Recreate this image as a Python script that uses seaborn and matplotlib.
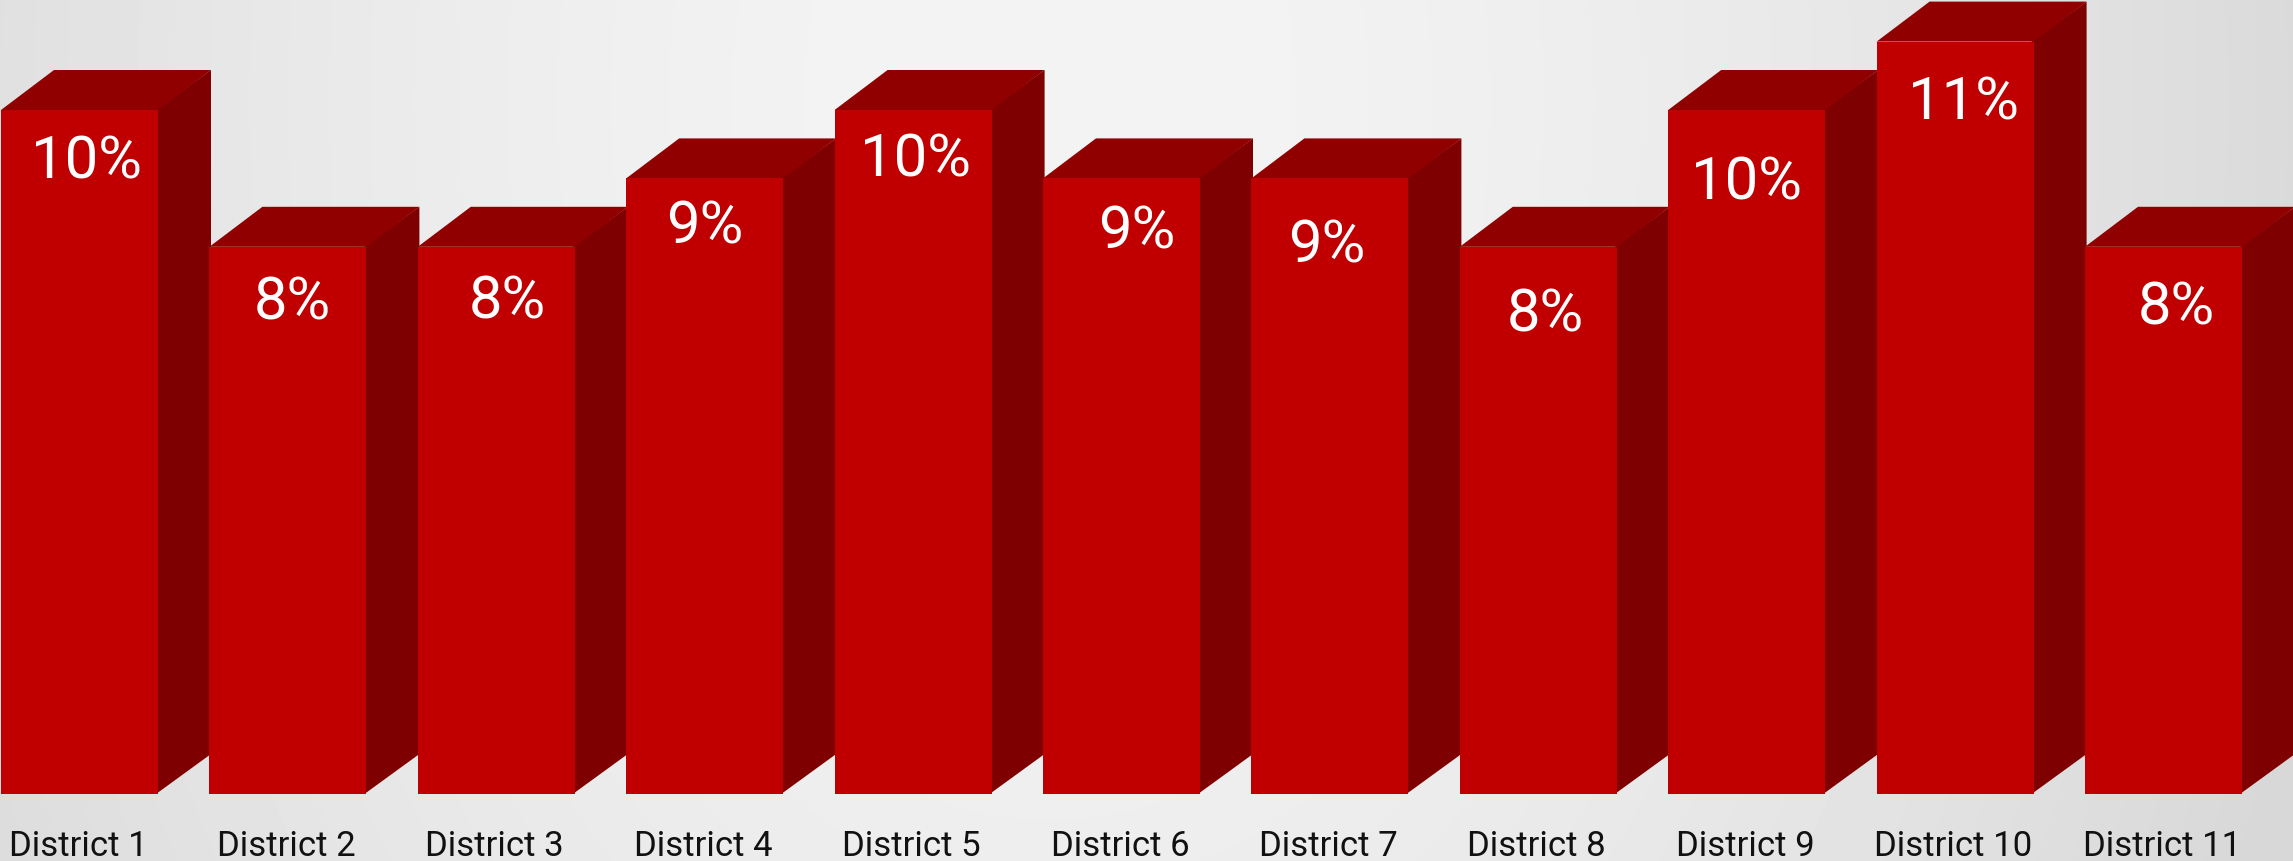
import numpy as np
import pandas as pd
import seaborn as sns
import matplotlib.pyplot as plt
from matplotlib.transforms import ScaledTranslation

districts = ['District 1', 'District 2', 'District 3', 'District 4', 'District 5', 'District 6',
             'District 7', 'District 8', 'District 9', 'District 10', 'District 11']
shares = [10, 8, 8, 9, 10, 9, 9, 8, 10, 11, 8]

# where each label sits relative to the top centre of its bar, in pixels
label_dx = [7, 4, 11, 0, 2, 15, -3, 7, 0, 8, 13]
label_dy = [45, 49, 48, 42, 43, 47, 61, 61, 66, 54, 54]

W, H = 2293, 862
BASE_Y = 795
PX_X = 208.4
PX_Y = 68.4
DEPTH_X = 53 / PX_X
DEPTH_Y = 40 / PX_Y
SEAM = 2 / PX_X

FRONT = '#c00000'
TOP = '#910000'
SIDE = '#7f0000'

sns.set_theme(style='white')
plt.rcParams['font.family'] = ['Roboto', 'DejaVu Sans']

fig = plt.figure(figsize=(W / 100, H / 100), dpi=100)

# soft radial backdrop
bg = fig.add_axes([0, 0, 1, 1], zorder=0)
yy, xx = np.mgrid[0:H, 0:W]
r = np.hypot((xx - 1050) / 1300, (yy - 100) / 1900)
bg.imshow(244 - 28 * np.clip(r, 0, 1) ** 1.6, cmap='gray', vmin=0, vmax=255, aspect='auto')
bg.axis('off')

ax = fig.add_axes([0, 1 - BASE_Y / H, 1, BASE_Y / H], zorder=1)
ax.patch.set_alpha(0)

df = pd.DataFrame({'district': districts, 'share': shares})
sns.barplot(data=df, x='district', y='share', color=FRONT, saturation=1, width=157 / PX_X,
            linewidth=0, ax=ax)
ax.set_xlim(-79.5 / PX_X, (W - 79.5) / PX_X)
ax.set_ylim(0, BASE_Y / PX_Y)

# fake the 3d look: side and top face behind each front face, later bars cover earlier ones
for i, bar in enumerate(ax.patches):
    x0, x1 = bar.get_x(), bar.get_x() + bar.get_width()
    top = bar.get_height()
    z = 3 + i * 3
    ax.fill([x1 - SEAM, x1 + DEPTH_X, x1 + DEPTH_X, x1 - SEAM], [0, DEPTH_Y, top + DEPTH_Y, top],
            color=SIDE, lw=0, zorder=z)
    ax.fill([x0, x0 + DEPTH_X, x1 + DEPTH_X, x1], [top, top + DEPTH_Y, top + DEPTH_Y, top],
            color=TOP, lw=0, zorder=z + 1)
    bar.set_zorder(z + 2)
    ax.annotate(f'{shares[i]}%', (i, top), xytext=(label_dx[i] * 0.72, -label_dy[i] * 0.72),
                textcoords='offset points', ha='center', va='center_baseline', color='white',
                fontsize=43, zorder=z + 2)

ax.set_xlabel('')
ax.set_ylabel('')
ax.set_yticks([])
ax.tick_params(axis='x', length=0, pad=25, labelsize=25, labelcolor='#111111')
shift = ScaledTranslation(-1.5 / 100, 0, fig.dpi_scale_trans)
for tick_label in ax.get_xticklabels():
    tick_label.set_transform(tick_label.get_transform() + shift)
sns.despine(ax=ax, left=True, bottom=True)

fig.savefig('out.png', dpi=100)
